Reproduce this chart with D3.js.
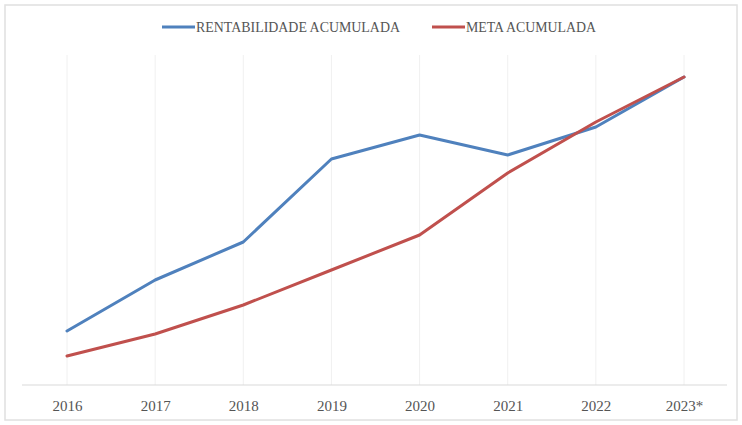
<!DOCTYPE html>
<html lang="pt">
<head>
<meta charset="UTF-8">
<title>Rentabilidade x Meta</title>
<script src="https://d3js.org/d3.v7.min.js"></script>
<style>
  body { margin: 0; padding: 0; background: #fff; }
  svg { display: block; }
  text { font-family: "Liberation Serif", "DejaVu Serif", serif; fill: #555555; }
</style>
</head>
<body>
<svg id="chart" width="742" height="425"></svg>
<script>
const anos = ["2016", "2017", "2018", "2019", "2020", "2021", "2022", "2023*"];
const rentabilidade = [27, 52.5, 71.5, 113, 125, 115, 129, 154];
const meta = [14.5, 25.5, 40, 57.5, 75, 106, 131.5, 154];
const series = [
  { nome: "RENTABILIDADE ACUMULADA", valores: rentabilidade, cor: "#4f81bd" },
  { nome: "META ACUMULADA", valores: meta, cor: "#c0504d" }
];

const svg = d3.select("#chart");

// moldura clara
svg.append("rect")
  .attr("x", 5).attr("y", 5)
  .attr("width", 742 - 10).attr("height", 425 - 10)
  .attr("fill", "none").attr("stroke", "#e0e0e0").attr("stroke-width", 1.5);

const x = d3.scalePoint().domain(anos).range([67, 684]);
const y = d3.scaleLinear().domain([0, 170]).range([385, 45]);

// grade vertical
svg.append("g")
  .selectAll("line")
  .data(anos)
  .join("line")
  .attr("x1", d => x(d)).attr("x2", d => x(d))
  .attr("y1", 55).attr("y2", 385)
  .attr("stroke", "#f0f0f0");

// eixo x
const eixo = svg.append("g")
  .attr("transform", "translate(0,385)")
  .call(d3.axisBottom(x).tickSize(0).tickPadding(15));
eixo.select(".domain").remove();
eixo.append("line")
  .attr("x1", 22).attr("x2", 727)
  .attr("stroke", "#d9d9d9");
eixo.selectAll("text")
  .style("font-size", "15px")
  .style("font-family", "'Liberation Serif', serif")
  .attr("fill", "#5f5f5f");

// linhas
const linha = d3.line()
  .x((d, i) => x(anos[i]))
  .y(d => y(d));

svg.append("g")
  .selectAll("path")
  .data(series)
  .join("path")
  .attr("d", d => linha(d.valores))
  .attr("fill", "none")
  .attr("stroke", d => d.cor)
  .attr("stroke-width", 3)
  .attr("stroke-linejoin", "round")
  .attr("stroke-linecap", "round");

// legenda
const legX = [162, 432];
const legW = [204, 130];
const leg = svg.append("g")
  .selectAll("g")
  .data(series)
  .join("g")
  .attr("transform", (d, i) => `translate(${legX[i]},27)`);
leg.append("line")
  .attr("x1", 0).attr("x2", 33)
  .attr("stroke", d => d.cor)
  .attr("stroke-width", 3);
leg.append("text")
  .attr("x", 34).attr("dy", "0.35em")
  .attr("textLength", (d, i) => legW[i])
  .attr("lengthAdjust", "spacingAndGlyphs")
  .style("font-size", "14px")
  .text(d => d.nome);
</script>
</body>
</html>
